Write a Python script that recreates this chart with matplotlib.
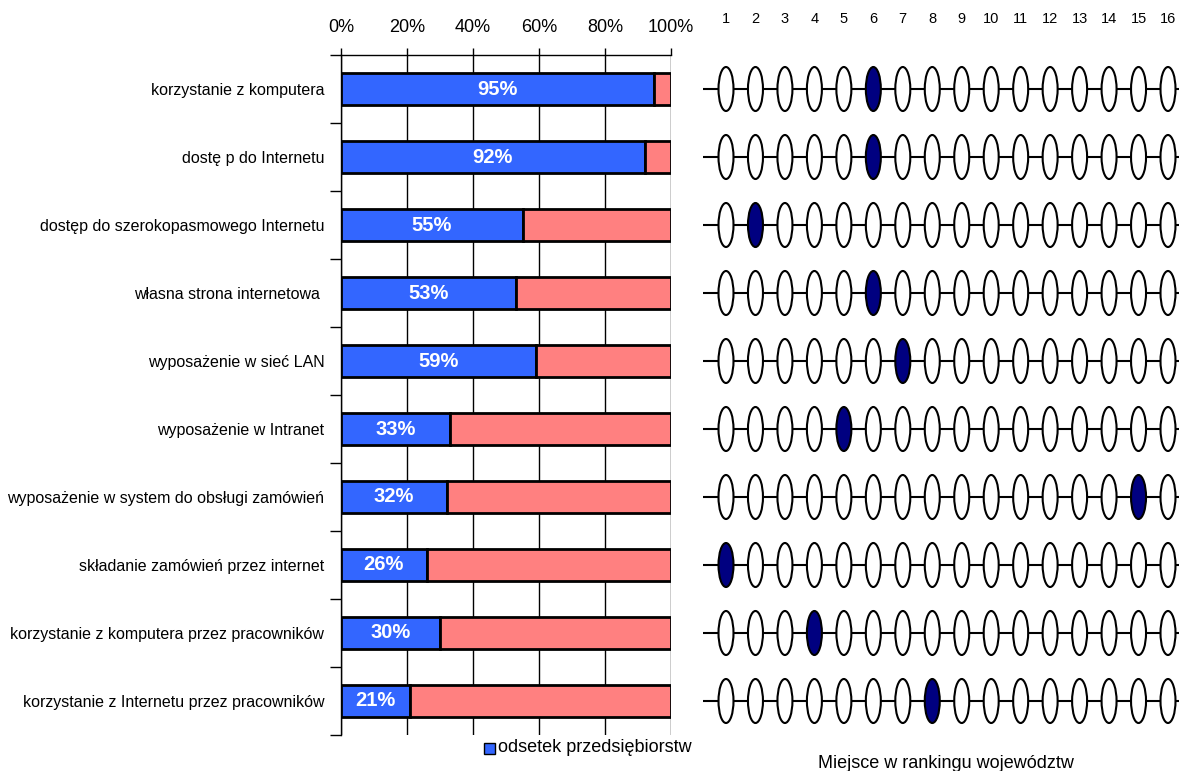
import matplotlib
matplotlib.use("Agg")
import matplotlib.pyplot as plt
from matplotlib.patches import Ellipse, Rectangle

plt.rcParams['font.family'] = ['Liberation Sans', 'DejaVu Sans']

categories = [
    "korzystanie z komputera",
    "dostę p do Internetu",
    "dostęp do szerokopasmowego Internetu",
    "własna strona internetowa ",
    "wyposażenie w sieć LAN",
    "wyposażenie w Intranet",
    "wyposażenie w system do obsługi zamówień",
    "składanie zamówień przez internet",
    "korzystanie z komputera przez pracowników",
    "korzystanie z Internetu przez pracowników",
]
share = [95, 92, 55, 53, 59, 33, 32, 26, 30, 21]
rank = [6, 6, 2, 6, 7, 5, 15, 1, 4, 8]
n_regions = 16
pct_ticks = [0, 20, 40, 60, 80, 100]
legend_label = "odsetek przedsiębiorstw"
rank_title = "Miejsce w rankingu województw"

W, H = 1179, 771
fig = plt.figure(figsize=(W / 100, H / 100), dpi=100)

def ax_rect(x0, y0, x1, y1):
    return [x0 / W, 1 - y1 / H, (x1 - x0) / W, (y1 - y0) / H]

blue = "#3366FF"
pink = "#FF8080"
navy = "#000080"

n = len(categories)
ypos = [i + 0.5 for i in range(n)]

# ---- left bar chart ----
ax = fig.add_axes(ax_rect(341, 55, 671, 735))
ax.set_xlim(0, 100)
ax.set_ylim(n, 0)
bh = 32 / 68
ax.barh(ypos, share, height=bh, color=blue, edgecolor="black", linewidth=2, zorder=3)
ax.barh(ypos, [100 - s for s in share], left=share, height=bh, color=pink,
        edgecolor="black", linewidth=2, zorder=3)
for y, s in zip(ypos, share):
    ax.text(s / 2, y, f"{s}%", color="white", fontsize=14.5, fontweight="bold",
            ha="center", va="center", zorder=4)
ax.xaxis.tick_top()
ax.set_xticks(pct_ticks)
ax.set_xticklabels([f"{t}%" for t in pct_ticks], fontsize=13)
ax.tick_params(axis="x", direction="out", length=5, width=1, pad=9)
ax.grid(axis="x", color="black", linewidth=1, zorder=0)
ax.set_yticks(range(n + 1))
ax.set_yticklabels([])
ax.set_yticks(ypos, minor=True)
ax.set_yticklabels(categories, minor=True, fontsize=11.5)
ax.tick_params(axis="y", which="major", direction="out", length=8, width=1)
ax.tick_params(axis="y", which="minor", length=0, pad=12)
for sp in ["right", "bottom"]:
    ax.spines[sp].set_visible(False)
ax.spines["top"].set_linewidth(1)
ax.spines["left"].set_linewidth(1)

# legend
fig.patches.append(Rectangle((484 / W, 1 - 754 / H), 11 / W, 11 / H, transform=fig.transFigure,
                             facecolor=blue, edgecolor="black", linewidth=1))
fig.text(498 / W, 1 - 748 / H, legend_label, fontsize=13, va="center", ha="left")

# ---- right ranking panel ----
px_per = (1168 - 726) / 15
x_left = 1 - (726 - 703) / px_per
x_right = 16 + (1179 - 1168) / px_per
ax2 = fig.add_axes(ax_rect(703, 55, 1179, 735))
ax2.set_xlim(x_left, x_right)
ax2.set_ylim(n, 0)
ax2.axis("off")
ew = 15 / px_per
eh = 44 / 68
for y, r in zip(ypos, rank):
    ax2.plot([x_left, x_right], [y, y], color="black", linewidth=1.5, zorder=1)
    for k in range(1, n_regions + 1):
        fc = navy if k == r else "white"
        ax2.add_patch(Ellipse((k, y), ew, eh, facecolor=fc, edgecolor="black",
                              linewidth=1.5, zorder=2))
for k in range(1, n_regions + 1):
    fig.text((726 + (k - 1) * px_per) / W, 1 - 19 / H, str(k), fontsize=10.5,
             ha="center", va="center")
fig.text(946 / W, 1 - 763 / H, rank_title, fontsize=13, ha="center", va="center")

fig.savefig("out.png", dpi=100)
